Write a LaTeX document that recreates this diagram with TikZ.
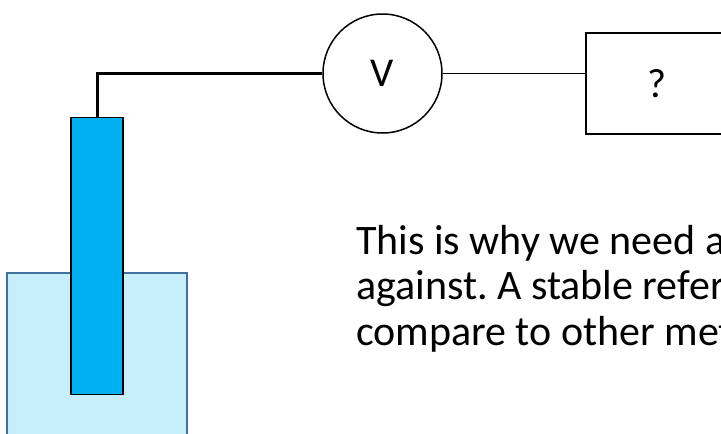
\documentclass[tikz,border=0pt]{standalone}
\usepackage{fontspec}
\setmainfont{Carlito}
\usepackage{xcolor}

\definecolor{rodblue}{HTML}{00B0F0}
\definecolor{liquid}{HTML}{C7EEFB}
\definecolor{glass}{HTML}{41719C}

\begin{document}
\frenchspacing
\begin{tikzpicture}[x=1pt,y=1pt,
  meter/.style={draw, circle, line width=1.5pt, minimum size=119pt, inner sep=0pt, font=\fontsize{41}{48}\selectfont},
  unknown/.style={draw, rectangle, line width=1.5pt, minimum width=142pt, minimum height=101pt, inner sep=0pt, font=\fontsize{41}{48}\selectfont},
  rod/.style={draw, rectangle, line width=1.5pt, fill=rodblue, minimum width=52pt, minimum height=277pt, inner sep=0pt}]

\useasboundingbox (0,0) rectangle (721,-434);

% beaker with solution
\draw [glass, fill=liquid, line width=1.6pt] (7,-450) -- (7,-273) -- (187,-273) -- (187,-450);

\node [rod] at (97,-256) (E) {};
\node [meter] at (382.5,-73.5) (V) {V};
\node [unknown] at (657,-83.5) (Q) {?};

\draw [line width=3pt] (E.north) |- (V.west);
\draw [line width=1.2pt] (V.east) -- (V.east -| Q.west);

\node [anchor=base west, align=left, inner sep=0pt, font=\fontsize{42}{45.5}\selectfont] at (356,-345) (T)
  {This is why we need a\\against. A stable refer\\compare to other met};

\end{tikzpicture}
\end{document}
